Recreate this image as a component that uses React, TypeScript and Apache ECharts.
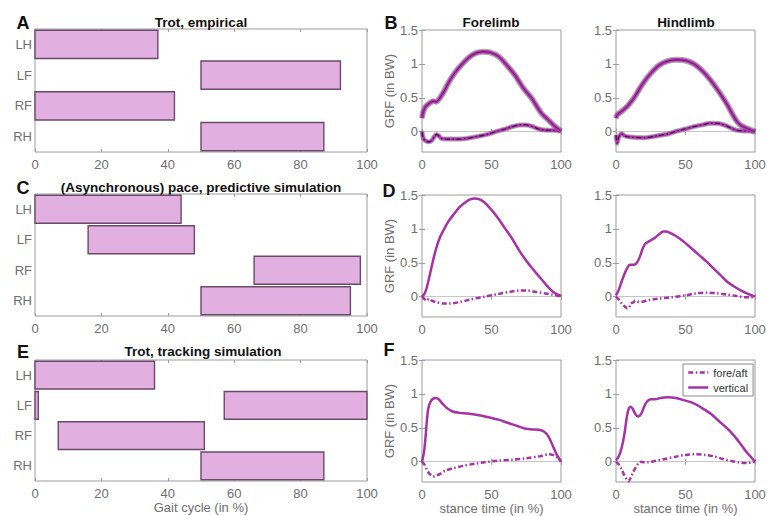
import React, { useEffect, useRef } from "react";
import * as echarts from "echarts";

// ---------- data ----------
const limbs = ["LH", "LF", "RF", "RH"];
const gaitTicks = [0, 20, 40, 60, 80, 100];
const grfTicks = [0, 0.5, 1, 1.5];

// stance phases: [start %, end %, limb index]
const stanceTrotEmpirical = [[0, 37, 0], [50, 92, 1], [0, 42, 2], [50, 87, 3]];
const stancePacePredictive = [[0, 44, 0], [16, 48, 1], [66, 98, 2], [50, 95, 3]];
const stanceTrotTracking = [[0, 36, 0], [0, 1, 1], [57, 100, 1], [7, 51, 2], [50, 87, 3]];

// B: empirical trot GRF (mean)
const bForeVertical = [[0, 0.2], [1, 0.3], [3, 0.38], [6, 0.43], [8, 0.45], [10, 0.44], [13, 0.5], [16, 0.6], [19, 0.72], [22, 0.82], [26, 0.93], [30, 1.02], [34, 1.1], [39, 1.16], [44, 1.18], [49, 1.17], [55, 1.11], [61, 0.98], [67, 0.83], [73, 0.64], [79, 0.49], [83, 0.36], [86, 0.27], [90, 0.19], [95, 0.09], [100, 0.01]];
const bForeForeAft = [[0, 0], [1, -0.1], [3, -0.14], [5, -0.15], [7, -0.13], [9, -0.07], [10.5, -0.04], [12, -0.06], [14, -0.1], [18, -0.11], [25, -0.11], [32, -0.1], [40, -0.07], [47, -0.04], [53, 0], [60, 0.04], [66, 0.08], [71, 0.1], [75, 0.1], [79, 0.08], [84, 0.04], [88, 0.025], [94, 0.02], [100, 0.01]];
const bHindVertical = [[0, 0.2], [1, 0.25], [4, 0.3], [8, 0.37], [13, 0.5], [19, 0.7], [25, 0.86], [31, 0.98], [37, 1.04], [44, 1.06], [50, 1.05], [56, 1.0], [62, 0.9], [68, 0.76], [74, 0.59], [80, 0.4], [84, 0.25], [87, 0.15], [90, 0.09], [94, 0.05], [100, 0.0]];
const bHindForeAft = [[0, -0.05], [0.8, -0.17], [2, -0.08], [4, -0.03], [6, -0.06], [10, -0.08], [20, -0.09], [30, -0.06], [38, -0.03], [44, 0.01], [50, 0.04], [56, 0.075], [62, 0.1], [68, 0.125], [74, 0.12], [79, 0.09], [83, 0.05], [87, 0.02], [92, 0.01], [96, 0.01], [100, 0]];

// D: predictive pace simulation
const dForeVertical = [[0, 0], [2, 0.05], [4, 0.18], [7, 0.45], [10, 0.7], [13, 0.88], [16, 1.0], [19, 1.11], [23, 1.22], [27, 1.32], [31, 1.39], [35, 1.44], [38, 1.45], [41, 1.44], [45, 1.39], [50, 1.28], [55, 1.15], [60, 1.0], [65, 0.85], [70, 0.68], [75, 0.53], [80, 0.4], [85, 0.28], [90, 0.16], [95, 0.06], [100, 0.01]];
const dForeForeAft = [[0, 0], [2, -0.04], [3.5, -0.06], [5, -0.03], [7, -0.06], [10, -0.08], [15, -0.1], [20, -0.1], [27, -0.08], [35, -0.04], [45, 0], [55, 0.04], [63, 0.07], [70, 0.09], [76, 0.09], [82, 0.07], [88, 0.05], [94, 0.03], [100, 0]];
const dHindVertical = [[0, 0.02], [2, 0.1], [4, 0.22], [6, 0.33], [8, 0.42], [10, 0.47], [13, 0.47], [15, 0.5], [17, 0.58], [19, 0.7], [21, 0.78], [24, 0.82], [28, 0.87], [31, 0.92], [34, 0.96], [36, 0.96], [40, 0.93], [45, 0.87], [50, 0.79], [55, 0.7], [60, 0.61], [65, 0.52], [70, 0.42], [75, 0.32], [80, 0.22], [85, 0.15], [90, 0.09], [95, 0.04], [100, 0]];
const dHindForeAft = [[0, 0], [2, -0.04], [4, -0.1], [6, -0.14], [8, -0.17], [9.5, -0.16], [10.5, -0.1], [12, -0.09], [14, -0.06], [17, -0.08], [20, -0.07], [24, -0.05], [30, -0.03], [40, -0.01], [50, 0.02], [58, 0.05], [66, 0.06], [73, 0.05], [80, 0.03], [87, 0.01], [93, -0.01], [97, -0.01], [100, 0]];

// F: tracking trot simulation
const fForeVertical = [[0, 0], [1.5, 0.15], [2.5, 0.35], [3.5, 0.6], [4.5, 0.78], [6, 0.88], [8, 0.93], [10, 0.94], [12, 0.92], [15, 0.85], [18, 0.79], [22, 0.74], [27, 0.72], [33, 0.71], [40, 0.69], [47, 0.66], [55, 0.62], [62, 0.57], [68, 0.53], [74, 0.49], [79, 0.475], [84, 0.47], [88, 0.44], [91, 0.37], [94, 0.24], [97, 0.1], [100, 0]];
const fForeForeAft = [[0, 0], [2, -0.05], [4, -0.14], [6, -0.19], [8, -0.22], [10, -0.21], [13, -0.18], [17, -0.13], [22, -0.1], [30, -0.06], [38, -0.03], [45, -0.01], [55, 0.015], [65, 0.03], [75, 0.05], [85, 0.08], [91, 0.11], [94, 0.1], [97, 0.07], [100, 0]];
const fHindVertical = [[0, 0.02], [2, 0.08], [4, 0.2], [6, 0.4], [7.5, 0.62], [9, 0.77], [10.5, 0.81], [12, 0.78], [14, 0.7], [16, 0.665], [18, 0.7], [20, 0.8], [22, 0.88], [25, 0.92], [28, 0.92], [32, 0.94], [37, 0.95], [43, 0.94], [50, 0.9], [56, 0.86], [62, 0.79], [68, 0.71], [74, 0.6], [80, 0.49], [85, 0.38], [90, 0.25], [94, 0.14], [97, 0.07], [100, 0]];
const fHindForeAft = [[0, 0], [2, -0.04], [4, -0.11], [6, -0.2], [8, -0.27], [9, -0.29], [10.5, -0.24], [12, -0.17], [14, -0.09], [16, -0.03], [18, 0], [20, -0.01], [23, -0.01], [28, 0.01], [35, 0.04], [42, 0.07], [50, 0.1], [57, 0.11], [64, 0.1], [70, 0.08], [77, 0.04], [83, 0.01], [88, -0.01], [94, -0.02], [98, -0.01], [100, 0]];

// ---------- styling ----------
const FONT = "'Liberation Sans', Arial, Helvetica, sans-serif";
const TICK_COLOR = "#6e6e6e";
const FRAME = "#9c9c9c";
const PURPLE = "#a632a6";
const DASHDOT = [5, 2.5, 1.5, 2.5];

const boxes = [
  { left: 35, top: 29, width: 332, height: 123 }, // A
  { left: 35, top: 194, width: 332, height: 122 }, // C
  { left: 35, top: 360, width: 332, height: 121 }, // E
  { left: 422, top: 30, width: 139, height: 122 }, // B fore
  { left: 616, top: 30, width: 139, height: 122 }, // B hind
  { left: 422, top: 195, width: 139, height: 122 }, // D fore
  { left: 616, top: 195, width: 139, height: 122 }, // D hind
  { left: 422, top: 360, width: 139, height: 122 }, // F fore
  { left: 616, top: 360, width: 139, height: 122 }, // F hind
];

export default function App() {
  const ref = useRef<HTMLDivElement>(null);

  useEffect(() => {
    document.body.style.margin = "0";
    const chart = echarts.init(ref.current!, null, { renderer: "svg" });

    const grid = boxes.map((b) => ({
      ...b,
      show: true,
      borderColor: FRAME,
      borderWidth: 1,
      backgroundColor: "#fff",
      containLabel: false,
      outerBoundsMode: "none",
    }));

    const labelStyle = { color: TICK_COLOR, fontSize: 13, fontFamily: FONT };
    const tickStyle = { inside: true, length: 3, lineStyle: { color: FRAME } };

    const xAxis: any[] = [];
    const yAxis: any[] = [];
    boxes.forEach((_, g) => {
      const gantt = g < 3;
      const xBase: any = {
        gridIndex: g,
        type: "value",
        min: 0,
        max: 100,
        interval: gantt ? gaitTicks[1] - gaitTicks[0] : 50,
        axisLine: { show: false },
        splitLine: { show: false },
        axisTick: tickStyle,
      };
      xAxis.push({
        ...xBase,
        position: "bottom",
        axisLabel: { ...labelStyle, margin: 6 },
        name: g === 2 ? "Gait cycle (in %)" : g >= 7 ? "stance time (in %)" : "",
        nameLocation: "middle",
        nameGap: 20,
        nameTextStyle: { color: TICK_COLOR, fontSize: 13, fontFamily: FONT },
      });
      xAxis.push({ ...xBase, position: "top", axisLabel: { show: false } });

      if (gantt) {
        yAxis.push({
          gridIndex: g,
          type: "category",
          data: limbs,
          inverse: true,
          axisLine: { show: false },
          axisTick: { show: false },
          splitLine: { show: false },
          axisLabel: { ...labelStyle, margin: 3 },
        });
        yAxis.push({ gridIndex: g, type: "value", show: false, position: "right" });
      } else {
        const yBase: any = {
          gridIndex: g,
          type: "value",
          min: -0.3,
          max: 1.5,
          axisLine: { show: false },
          splitLine: { show: false },
          axisTick: { ...tickStyle, customValues: grfTicks },
        };
        yAxis.push({
          ...yBase,
          position: "left",
          axisLabel: { ...labelStyle, margin: 4, customValues: grfTicks },
          name: g === 3 || g === 5 || g === 7 ? "GRF (in BW)" : "",
          nameLocation: "middle",
          nameGap: 24,
          nameTextStyle: { color: TICK_COLOR, fontSize: 13, fontFamily: FONT },
        });
        yAxis.push({ ...yBase, position: "right", axisLabel: { show: false } });
      }
    });

    const series: any[] = [];

    const stanceSets = [stanceTrotEmpirical, stancePacePredictive, stanceTrotTracking];
    stanceSets.forEach((set, g) => {
      series.push({
        type: "custom",
        xAxisIndex: 2 * g,
        yAxisIndex: 2 * g,
        data: set,
        encode: { x: [0, 1], y: 2 },
        renderItem: (params: any, api: any) => {
          const a = api.coord([api.value(0), api.value(2)]);
          const b = api.coord([api.value(1), api.value(2)]);
          const h = api.size([0, 1])[1] * 0.92;
          return {
            type: "rect",
            shape: { x: a[0], y: a[1] - h / 2, width: b[0] - a[0], height: h },
            style: { fill: "#e2b0e0", stroke: "#6a4a6a", lineWidth: 1.4 },
          };
        },
        z: 3,
      });
    });

    const zeroMark = {
      silent: true,
      symbol: "none",
      z: 1,
      label: { show: false },
      lineStyle: { color: "#c6c6c6", width: 1, type: "solid" },
      data: [{ yAxis: 0 }],
    };

    const line = (g: number, data: number[][], style: any, extra: any = {}) => ({
      type: "line",
      xAxisIndex: 2 * g,
      yAxisIndex: 2 * g,
      data,
      symbol: "none",
      showSymbol: false,
      smooth: 0.3,
      itemStyle: { color: style.color },
      lineStyle: style,
      z: 3,
      ...extra,
    });

    // B panels: mean with grey sd outline
    const bSets = [
      [3, bForeVertical, bForeForeAft],
      [4, bHindVertical, bHindForeAft],
    ] as const;
    bSets.forEach(([g, vert, fa]) => {
      series.push(line(g, fa as any, { color: "#6a6a6a", width: 5, opacity: 0.55 }, { markLine: zeroMark, z: 2 }));
      series.push(line(g, fa as any, { color: "#b535b5", width: 3 }));
      series.push(line(g, fa as any, { color: "#3a1040", width: 1.1, type: DASHDOT }));
      series.push(line(g, vert as any, { color: "#6a6a6a", width: 6, opacity: 0.55 }, { z: 2 }));
      series.push(line(g, vert as any, { color: "#b535b5", width: 3.6 }));
      series.push(line(g, vert as any, { color: "#6a1a6a", width: 1 }));
    });

    const simSets = [
      [5, dForeVertical, dForeForeAft, "", ""],
      [6, dHindVertical, dHindForeAft, "", ""],
      [7, fForeVertical, fForeForeAft, "", ""],
      [8, fHindVertical, fHindForeAft, "vertical", "fore/aft"],
    ] as const;
    simSets.forEach(([g, vert, fa, nv, nf]) => {
      series.push(line(g, fa as any, { color: PURPLE, width: 2.5, type: DASHDOT }, { markLine: zeroMark, name: nf || undefined }));
      series.push(line(g, vert as any, { color: PURPLE, width: 2.5 }, { name: nv || undefined }));
    });

    const titleStyle = (x: number, y: number, text: string, size = 13.5) => ({
      type: "text",
      x,
      y,
      style: {
        text,
        fill: "#111",
        font: `bold ${size}px ${FONT}`,
        textAlign: "center",
        textVerticalAlign: "middle",
      },
    });

    const graphic = [
      titleStyle(23, 23, "A", 18),
      titleStyle(201, 22, "Trot, empirical"),
      titleStyle(391, 23, "B", 18),
      titleStyle(491, 22, "Forelimb"),
      titleStyle(686, 22, "Hindlimb"),
      titleStyle(23, 188, "C", 18),
      titleStyle(201, 187, "(Asynchronous) pace, predictive simulation"),
      titleStyle(389, 191, "D", 18),
      titleStyle(23, 352, "E", 18),
      titleStyle(203, 351, "Trot, tracking simulation"),
      titleStyle(389, 350, "F", 18),
    ];

    chart.setOption({
      animation: false,
      backgroundColor: "#fff",
      textStyle: { fontFamily: FONT },
      grid,
      xAxis,
      yAxis,
      series,
      graphic,
      legend: {
        show: true,
        data: ["fore/aft", "vertical"],
        orient: "vertical",
        left: 683,
        top: 364,
        itemWidth: 20,
        itemHeight: 8,
        itemGap: 4,
        padding: [3, 5, 3, 4],
        borderColor: "#8a8a8a",
        borderWidth: 1,
        backgroundColor: "#fff",
        selectedMode: false,
        itemStyle: { opacity: 0 },
        lineStyle: { width: 2.5 },
        textStyle: { fontSize: 11, color: "#333", fontFamily: FONT },
      },
    });

    return () => chart.dispose();
  }, []);

  return <div ref={ref} style={{ width: 767, height: 516 }} />;
}
